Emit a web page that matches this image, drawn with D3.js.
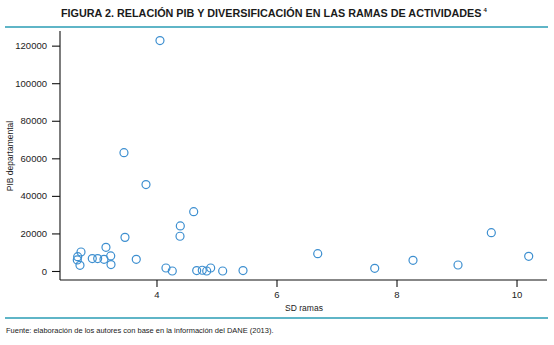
<!DOCTYPE html>
<html><head><meta charset="utf-8">
<script src="https://cdn.jsdelivr.net/npm/d3@7"></script>
<style>
html,body{margin:0;padding:0;background:#fff;}
svg{display:block;font-family:"Liberation Sans",Arial,sans-serif;}
</style></head>
<body>
<svg id="c" width="554" height="345"></svg>
<script>
const sdRamas = [2.687,2.68,2.742,2.725,2.93,3.02,3.125,3.158,3.237,3.242,3.458,3.475,3.663,3.825,4.058,4.158,4.263,4.397,4.392,4.62,4.67,4.763,4.837,4.903,5.103,5.442,6.687,7.637,8.275,9.025,9.58,10.203];
const pibDepartamental = [7600,5900,10100,3000,6600,6600,6200,12600,8000,3400,63000,17900,6200,46000,122700,1600,0,24000,18500,31600,200,400,0,1600,0,200,9200,1400,5700,3200,20400,7800];
const xTicks = [4,6,8,10];
const yTicks = [0,20000,40000,60000,80000,100000,120000];
const titleText = "FIGURA 2. RELACIÓN PIB Y DIVERSIFICACIÓN EN LAS RAMAS DE ACTIVIDADES";
const titleNote = "4";
const footText = "Fuente: elaboración de los autores con base en la información del DANE (2013).";

const svg = d3.select("#c");
const mLeft = 60, mRight = 547, mTop = 31, mBottom = 280;
const x = d3.scaleLinear().domain([2.392, 10.508]).range([mLeft, mRight]);
const y = d3.scaleLinear().domain([-4800, 127800]).range([mBottom, mTop]);

// fit a text to a target width via letter-spacing or font-size
function fitText(sel, target, baseSize) {
  sel.style("font-size", baseSize + "px").style("letter-spacing", "0px");
  const w = sel.node().getComputedTextLength();
  const n = sel.text().length;
  if (w < target) sel.style("letter-spacing", ((target - w) / n) + "px");
  else sel.style("font-size", (baseSize * target / w) + "px");
  return sel.node().getComputedTextLength();
}

// title
const title = svg.append("text").attr("x", 61).attr("y", 17)
  .style("font-family","'Liberation Sans Narrow','Liberation Sans',sans-serif")
  .style("font-weight","bold").attr("fill","#1a1a1a").text(titleText);
const tw = fitText(title, 421, 12);
svg.append("text").attr("x", 61 + tw + 2).attr("y", 12)
  .style("font-family","'Liberation Sans Narrow','Liberation Sans',sans-serif")
  .style("font-weight","bold").style("font-size","6px").attr("fill","#1a1a1a").text(titleNote);

const teal = "#2a9db5";
svg.append("line").attr("x1",5).attr("x2",548).attr("y1",27).attr("y2",27).attr("stroke",teal).attr("stroke-width",1.3);
svg.append("line").attr("x1",5).attr("x2",548).attr("y1",318).attr("y2",318).attr("stroke",teal).attr("stroke-width",1.3);

// axes
const xAxis = svg.append("g").attr("transform",`translate(0,${mBottom})`)
  .call(d3.axisBottom(x).tickValues(xTicks).tickSize(7).tickPadding(4).tickFormat(d3.format("d")));
const yAxis = svg.append("g").attr("transform",`translate(${mLeft},0)`)
  .call(d3.axisLeft(y).tickValues(yTicks).tickSize(8).tickPadding(5).tickFormat(d3.format("d")));
xAxis.select(".domain").attr("d",`M${mLeft},0H${mRight}`);
yAxis.select(".domain").attr("d",`M0,${mTop}V${mBottom}`);
[xAxis,yAxis].forEach(g=>{
  g.selectAll(".domain,.tick line").attr("stroke","#111").attr("stroke-width",1.1);
  g.selectAll("text").style("font-family","'Liberation Sans',sans-serif").style("font-size","9.5px").attr("fill","#222");
});

// axis labels
svg.append("text").attr("x",304).attr("y",311).attr("text-anchor","middle")
  .style("font-size","8.5px").attr("fill","#222").text("SD ramas");
svg.append("text").attr("transform","translate(13,156) rotate(-90)").attr("text-anchor","middle")
  .style("font-size","8.5px").attr("fill","#222").text("PIB departamental");

// points
svg.append("g").selectAll("circle").data(sdRamas.map((d,i)=>[d,pibDepartamental[i]]))
  .join("circle").attr("cx",d=>x(d[0])).attr("cy",d=>y(d[1])).attr("r",4)
  .attr("fill","none").attr("stroke","#3d8fd0").attr("stroke-width",1.2);

// footer
const foot = svg.append("text").attr("x",6).attr("y",333)
  .style("font-family","'Liberation Sans Narrow','Liberation Sans',sans-serif")
  .attr("fill","#1a1a1a").text(footText);
fitText(foot, 268, 8);
</script>
</body></html>
